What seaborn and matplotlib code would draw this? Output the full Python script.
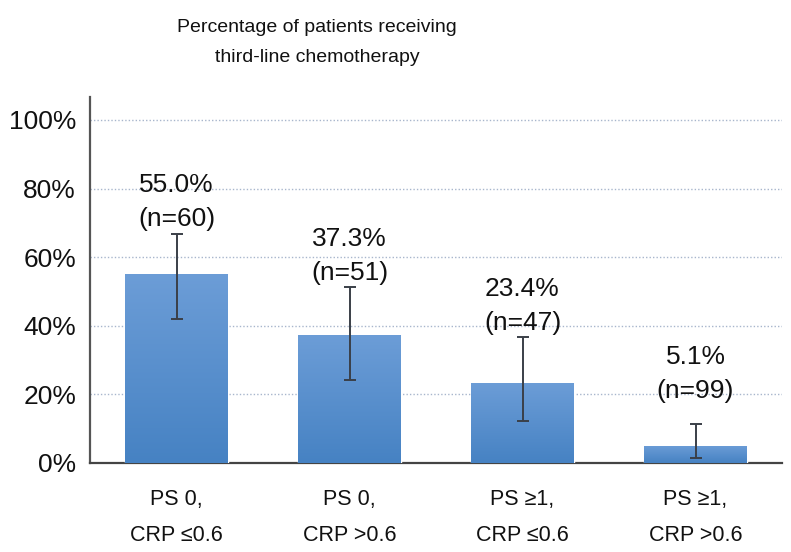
import matplotlib
matplotlib.use("Agg")
import matplotlib.pyplot as plt
from matplotlib.colors import LinearSegmentedColormap
import seaborn as sns
import pandas as pd
import numpy as np

categories = ["PS 0,\nCRP \u22640.6", "PS 0,\nCRP >0.6", "PS \u22651,\nCRP \u22640.6", "PS \u22651,\nCRP >0.6"]
percent = [55.0, 37.3, 23.4, 5.1]
n_values = [60, 51, 47, 99]
ci_lower = [42.0, 24.2, 12.2, 1.5]
ci_upper = [66.8, 51.3, 36.7, 11.4]
ytick_values = [0, 20, 40, 60, 80, 100]

sns.set_theme(style="white")
plt.rcParams['font.family'] = ['Liberation Sans', 'DejaVu Sans']

df = pd.DataFrame({"group": categories, "pct": percent})

fig = plt.figure(figsize=(7.91, 5.52), dpi=100)
ax = fig.add_axes([90/791, 1-463/552, (782-90)/791, (463-97)/552])

sns.barplot(data=df, x="group", y="pct", ax=ax, color="#5790cd", width=0.59,
            saturation=1, errorbar=None, zorder=3)

# vertical gradient fill inside each bar
cmap = LinearSegmentedColormap.from_list("bar", ["#4682c3", "#6c9dd7"])
grad = np.linspace(0, 1, 256).reshape(-1, 1)
for patch in list(ax.patches):
    bx, by = patch.get_x(), patch.get_y()
    bw, bh = patch.get_width(), patch.get_height()
    im = ax.imshow(grad, cmap=cmap, origin="lower", aspect="auto",
                   extent=[bx, bx + bw, by, by + bh], zorder=3.1, interpolation="bilinear")
    im.set_clip_path(patch)

x = np.arange(len(categories))
yerr = np.array([np.array(percent) - np.array(ci_lower), np.array(ci_upper) - np.array(percent)])
ax.errorbar(x, percent, yerr=yerr, fmt="none", ecolor="#3a3f48", elinewidth=1.4,
            capsize=4.5, capthick=1.4, zorder=4)

for xi, p, n, up in zip(x, percent, n_values, ci_upper):
    ytop = max(up + 4.2, 21)
    ax.text(xi, ytop, f"(n={n})", ha="center", va="center", fontsize=19, color="#111111")
    ax.text(xi, ytop + 9.9, f"{p:.1f}%", ha="center", va="center", fontsize=19, color="#111111")

ax.set_ylim(0, 106.7)
ax.set_xlim(-0.5, 3.5)
ax.set_yticks(ytick_values)
ax.set_yticklabels([f"{v}%" for v in ytick_values], fontsize=19, color="#111111")
ax.set_xticks(x)
ax.set_xticklabels(categories, fontsize=15.5, color="#111111", linespacing=1.9)
ax.tick_params(axis="x", pad=19, length=0)
ax.tick_params(axis="y", pad=10, length=0)
ax.set_xlabel("")
ax.set_ylabel("")
for v in ytick_values[1:]:
    ax.axhline(v, color="#a8b6cc", linestyle=(0, (1, 1.5)), linewidth=1, zorder=1)

for s in ["top", "right"]:
    ax.spines[s].set_visible(False)
ax.spines["left"].set_color("#555555")
ax.spines["bottom"].set_color("#444444")
ax.spines["left"].set_linewidth(1.6)
ax.spines["bottom"].set_linewidth(1.6)

fig.text(317/791, 1-28/552, "Percentage of patients receiving", ha="center", va="center",
         fontsize=14, color="#111111")
fig.text(317/791, 1-57/552, "third-line chemotherapy", ha="center", va="center",
         fontsize=14, color="#111111")

fig.savefig("out.png", dpi=100)
